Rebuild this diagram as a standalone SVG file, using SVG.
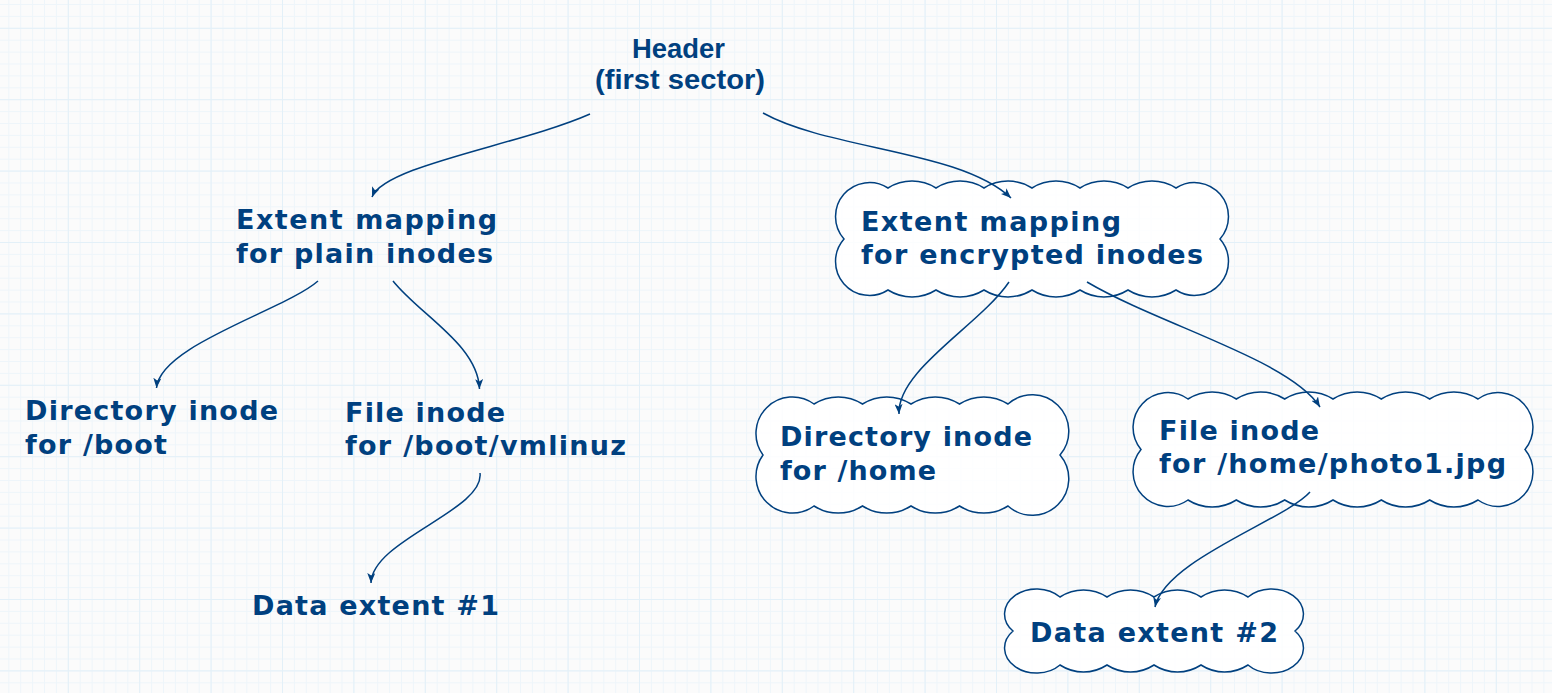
<svg xmlns="http://www.w3.org/2000/svg" width="1552" height="693" viewBox="0 0 1552 693">
<style>
.t{font-family:"DejaVu Sans",sans-serif;font-weight:bold;font-size:27px;fill:#00407f}
.h{font-family:"Liberation Sans",Arial,sans-serif;font-weight:bold;font-size:27px;fill:#00407f}
.cloud{fill:#ffffff;fill-opacity:0.85;stroke:#00407f;stroke-width:1.5}
.edge{fill:none;stroke:#00407f;stroke-width:1.5;marker-end:url(#arr)}
</style>
<defs>
<pattern id="minor" width="11.9" height="11.9" x="8.3" y="4" patternUnits="userSpaceOnUse">
<path d="M0.5,0 V11.9 M0,0.5 H11.9" stroke="#eef5fa" stroke-width="1" fill="none"/>
</pattern>
<pattern id="major" width="71.4" height="71.4" x="67.8" y="27.8" patternUnits="userSpaceOnUse">
<path d="M0.5,0 V71.4 M0,0.5 H71.4" stroke="#e3f0f8" stroke-width="1" fill="none"/>
</pattern>
<marker id="arr" markerUnits="userSpaceOnUse" viewBox="0 0 10 8" markerWidth="10" markerHeight="8" refX="10" refY="4" orient="auto">
<path d="M0,0 L10,4 L0,8 L2.5,4 Z" fill="#00407f"/>
</marker>
</defs>
<rect width="1552" height="693" fill="#fbfbfb"/>
<rect width="1552" height="693" fill="url(#minor)"/>
<rect width="1552" height="693" fill="url(#major)"/>

<g id="header">
<text class="h" x="632" y="57.5" textLength="93" lengthAdjust="spacingAndGlyphs">Header</text>
<text class="h" x="595" y="89" textLength="170" lengthAdjust="spacingAndGlyphs">(first sector)</text>
</g>

<g id="extent-plain">
<text class="t" x="236" y="229" textLength="261">Extent mapping</text>
<text class="t" x="236" y="263" textLength="257">for plain inodes</text>
</g>

<g id="extent-encrypted">
<path class="cloud" d="M844,239 A34,34 0 0 1 888,188 A45,45 0 0 1 936,188 A45,45 0 0 1 984,188 A45,45 0 0 1 1032,188 A45,45 0 0 1 1080,188 A45,45 0 0 1 1128,188 A45,45 0 0 1 1176,188 A34,34 0 0 1 1220,239 A34,34 0 0 1 1176,290 A45,45 0 0 1 1128,290 A45,45 0 0 1 1080,290 A45,45 0 0 1 1032,290 A45,45 0 0 1 984,290 A45,45 0 0 1 936,290 A45,45 0 0 1 888,290 A34,34 0 0 1 844,239 Z"/>
<text class="t" x="861" y="231" textLength="260">Extent mapping</text>
<text class="t" x="861" y="264" textLength="342">for encrypted inodes</text>
</g>

<g id="dir-boot">
<text class="t" x="25" y="420" textLength="253">Directory inode</text>
<text class="t" x="25" y="454" textLength="142">for /boot</text>
</g>

<g id="file-vmlinuz">
<text class="t" x="345" y="422" textLength="160">File inode</text>
<text class="t" x="345" y="455" textLength="281">for /boot/vmlinuz</text>
</g>

<g id="data-extent-1">
<text class="t" x="252" y="615" textLength="247">Data extent #1</text>
</g>

<g id="dir-home">
<path class="cloud" d="M763,455 A36.5,36.5 0 0 1 814,404 A45,45 0 0 1 862.5,404 A45,45 0 0 1 911,404 A45,45 0 0 1 959.5,404 A45,45 0 0 1 1008,404 A36.5,36.5 0 0 1 1060,455 A36.5,36.5 0 0 1 1008,506 A45,45 0 0 1 959.5,506 A45,45 0 0 1 911,506 A45,45 0 0 1 862.5,506 A45,45 0 0 1 814,506 A36.5,36.5 0 0 1 763,455 Z"/>
<text class="t" x="780" y="446" textLength="252">Directory inode</text>
<text class="t" x="780" y="480" textLength="156">for /home</text>
</g>

<g id="file-photo">
<path class="cloud" d="M1141,449.5 A34.8,34.8 0 0 1 1188,399 A45,45 0 0 1 1236.3,399 A45,45 0 0 1 1284.7,399 A45,45 0 0 1 1333,399 A45,45 0 0 1 1381.3,399 A45,45 0 0 1 1429.7,399 A45,45 0 0 1 1478,399 A34.8,34.8 0 0 1 1525,449.5 A34.8,34.8 0 0 1 1478,500 A45,45 0 0 1 1429.7,500 A45,45 0 0 1 1381.3,500 A45,45 0 0 1 1333,500 A45,45 0 0 1 1284.7,500 A45,45 0 0 1 1236.3,500 A45,45 0 0 1 1188,500 A34.8,34.8 0 0 1 1141,449.5 Z"/>
<text class="t" x="1159" y="440" textLength="160">File inode</text>
<text class="t" x="1159" y="473" textLength="347">for /home/photo1.jpg</text>
</g>

<g id="data-extent-2">
<path class="cloud" d="M1013,631 A31.8,25 0 0 1 1060,597 A43,43 0 0 1 1107,597 A43,43 0 0 1 1154,597 A43,43 0 0 1 1201,597 A43,43 0 0 1 1248,597 A31.8,25 0 0 1 1295,631 A31.8,25 0 0 1 1248,665 A43,43 0 0 1 1201,665 A43,43 0 0 1 1154,665 A43,43 0 0 1 1107,665 A43,43 0 0 1 1060,665 A31.8,25 0 0 1 1013,631 Z"/>
<text class="t" x="1030" y="642" textLength="248">Data extent #2</text>
</g>

<g id="connectors">
<path class="edge" d="M590,114 C520,145 385,165 372,197"/>
<path class="edge" d="M763,113 C830,150 960,150 1011,198"/>
<path class="edge" d="M318,281 C285,310 160,345 156.5,388"/>
<path class="edge" d="M393,281 C420,315 478,345 479.5,389"/>
<path class="edge" d="M480,473 C485,510 372,540 371,583"/>
<path class="edge" d="M1009,282 C980,325 897,370 899,414"/>
<path class="edge" d="M1087,282 C1160,325 1290,360 1320,407"/>
<path class="edge" d="M1310,492 C1285,520 1165,560 1155,607"/>
</g>
</svg>
